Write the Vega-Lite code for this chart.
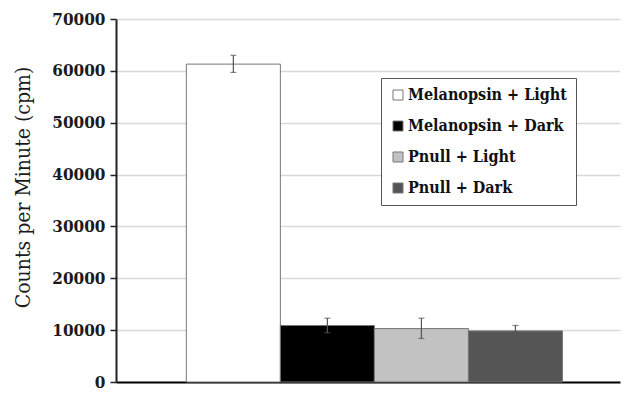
{
  "$schema": "https://vega.github.io/schema/vega-lite/v6.json",
  "width": 504,
  "height": 363,
  "autosize": {"type": "none"},
  "padding": {"left": 116, "top": 19, "right": 5, "bottom": 12},
  "background": "white",
  "config": {
    "view": {"stroke": null},
    "axisY": {
      "titleFont": "DejaVu Serif Condensed",
      "titleFontSize": 21,
      "titleFontWeight": "normal",
      "titleColor": "#1a1a1a",
      "titlePadding": 18,
      "titleY": 168,
      "labelFont": "DejaVu Serif Condensed",
      "labelFontSize": 17,
      "labelFontWeight": "bold",
      "labelColor": "#1a1a1a",
      "labelPadding": 5,
      "labelOverlap": false,
      "domainColor": "#222222",
      "domainWidth": 2,
      "tickColor": "#222222",
      "tickSize": 6,
      "tickWidth": 1.5,
      "gridColor": "#d9d9d9",
      "gridWidth": 1.5
    }
  },
  "data": {
    "values": [
      {"group": "Melanopsin + Light", "cpm": 61300, "lo": 59700, "hi": 63000},
      {"group": "Melanopsin + Dark", "cpm": 10900, "lo": 9500, "hi": 12300},
      {"group": "Pnull + Light", "cpm": 10300, "lo": 8400, "hi": 12300},
      {"group": "Pnull + Dark", "cpm": 9850, "lo": 8900, "hi": 10900}
    ]
  },
  "encoding": {
    "x": {
      "field": "group",
      "type": "nominal",
      "sort": null,
      "scale": {"paddingInner": 0, "paddingOuter": 0.68, "align": 0.55},
      "axis": {
        "title": null,
        "labels": false,
        "ticks": false,
        "domainColor": "#000000",
        "domainWidth": 2,
        "grid": false
      }
    }
  },
  "layer": [
    {
      "mark": {"type": "bar", "stroke": "#777777", "strokeWidth": 1},
      "encoding": {
        "y": {
          "field": "cpm",
          "type": "quantitative",
          "scale": {"domain": [0, 70000]},
          "axis": {"title": "Counts per Minute (cpm)", "values": [0, 10000, 20000, 30000, 40000, 50000, 60000, 70000], "format": "d"}
        },
        "fill": {
          "field": "group",
          "type": "nominal",
          "sort": null,
          "scale": {
            "domain": ["Melanopsin + Light", "Melanopsin + Dark", "Pnull + Light", "Pnull + Dark"],
            "range": ["#ffffff", "#000000", "#c2c2c2", "#555555"]
          },
          "legend": {
            "title": null,
            "orient": "none",
            "legendX": 265,
            "legendY": 59,
            "direction": "vertical",
            "fillColor": "#ffffff",
            "strokeColor": "#555555",
            "padding": 9,
            "rowPadding": 15,
            "symbolType": "square",
            "symbolSize": 100,
            "symbolStrokeColor": "#777777",
            "symbolStrokeWidth": 1,
            "labelFont": "DejaVu Serif Condensed",
            "labelFontSize": 16,
            "labelFontWeight": "bold",
            "labelColor": "#111111",
            "labelOffset": 2,
            "labelLimit": 400
          }
        }
      }
    },
    {
      "mark": {"type": "rule", "color": "#555555", "strokeWidth": 1.2},
      "encoding": {
        "y": {"field": "lo", "type": "quantitative", "axis": {"title": "Counts per Minute (cpm)", "values": [0, 10000, 20000, 30000, 40000, 50000, 60000, 70000], "format": "d"}},
        "y2": {"field": "hi"}
      }
    },
    {
      "mark": {"type": "tick", "color": "#555555", "thickness": 1.2, "size": 6},
      "encoding": {"y": {"field": "lo", "type": "quantitative", "axis": {"title": "Counts per Minute (cpm)", "values": [0, 10000, 20000, 30000, 40000, 50000, 60000, 70000], "format": "d"}}}
    },
    {
      "mark": {"type": "tick", "color": "#555555", "thickness": 1.2, "size": 6},
      "encoding": {"y": {"field": "hi", "type": "quantitative", "axis": {"title": "Counts per Minute (cpm)", "values": [0, 10000, 20000, 30000, 40000, 50000, 60000, 70000], "format": "d"}}}
    }
  ]
}
